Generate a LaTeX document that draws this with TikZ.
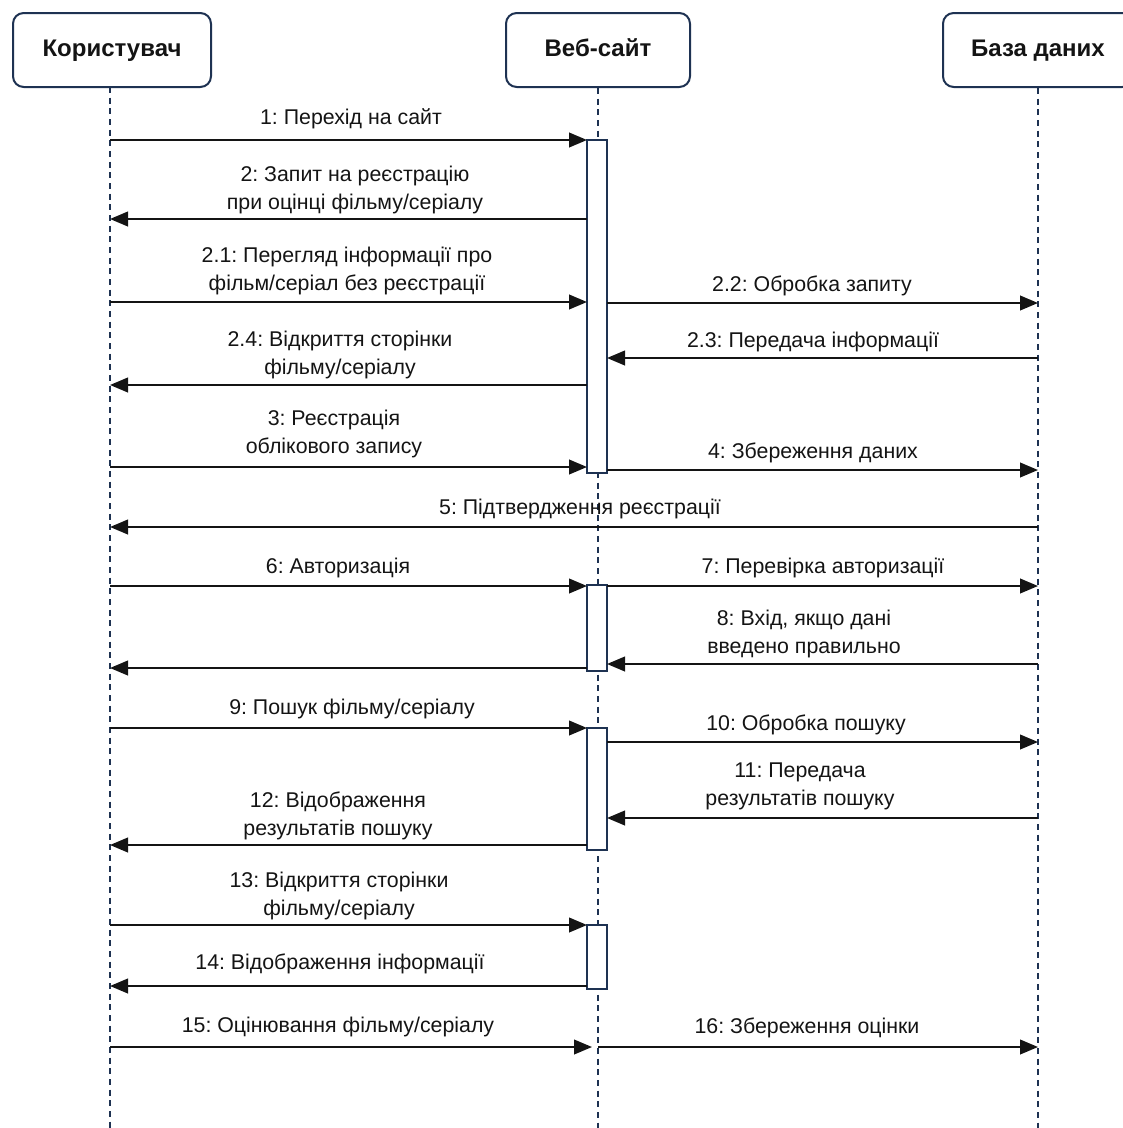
\documentclass[tikz,border=0pt]{standalone}
\usepackage{fontspec}
\setmainfont{Liberation Sans}
\usetikzlibrary{arrows.meta}
\definecolor{navy}{RGB}{30,50,82}
\definecolor{ink}{RGB}{20,20,20}

% one message arrow between two named coordinates
\newcommand\seqmsg[4]{%
  \coordinate (#1s) at (#3,#2);
  \coordinate (#1e) at (#4,#2);
  \draw[msg] (#1s) -- (#1e);}

\begin{document}
\frenchspacing
\begin{tikzpicture}[x=0.75pt,y=-0.75pt,
  actor/.style={draw=navy, line width=1.5pt, rounded corners=8pt,
    minimum height=55.5pt, fill=white, text height=13pt, text depth=3.5pt,
    text=ink, font=\bfseries\fontsize{18}{21}\selectfont},
  life/.style={draw=navy, line width=1.1pt, dash pattern=on 4.5pt off 3.5pt},
  actbox/.style={draw=navy, line width=1.1pt, fill=white, minimum width=15pt, inner sep=0pt},
  msg/.style={draw=ink, line width=1.5pt, -{Triangle[length=13.5pt,width=11pt]}},
  lbl/.style={align=center, inner sep=0pt, text=ink, font=\fontsize{16}{21}\selectfont}]

\useasboundingbox (0,0) rectangle (1122,1128);

% lifelines
\coordinate (Uend) at (110,1128);
\coordinate (Wend) at (598,1128);
\coordinate (Dend) at (1038,1128);
\node[actor, minimum width=148.5pt] (U) at (112,50) {Користувач};
\node[actor, minimum width=138pt] (W) at (598,50) {Веб-сайт};
\node[actor, minimum width=142.5pt] (D) at (1038,50) {База даних};
\draw[life] (110,87) -- (Uend);
\draw[life] (W.south) -- (Wend);
\draw[life] (D.south) -- (Dend);

% activation bars on the web-site lifeline
\node[actbox, minimum height=249.75pt] (A1) at (597,306.5) {};
\node[actbox, minimum height=64.5pt] (A2) at (597,628) {};
\node[actbox, minimum height=91.5pt] (A3) at (597,789) {};
\node[actbox, minimum height=48pt] (A4) at (597,957) {};

% messages
\seqmsg{m1}{140}{110}{587}
\node[lbl] (l1) at (351,119) {1: Перехід на сайт};
\seqmsg{m2}{219}{587}{110}
\node[lbl] (l2) at (355,189.5) {2: Запит на реєстрацію\\при оцінці фільму/серіалу};
\seqmsg{m21}{302}{110}{587}
\node[lbl] (l21) at (347,271) {2.1: Перегляд інформації про\\фільм/серіал без реєстрації};
\seqmsg{m22}{303}{607}{1038}
\node[lbl] (l22) at (812,286) {2.2: Обробка запиту};
\seqmsg{m23}{358}{1038}{607}
\node[lbl] (l23) at (813,342) {2.3: Передача інформації};
\seqmsg{m24}{385}{587}{110}
\node[lbl] (l24) at (340,355) {2.4: Відкриття сторінки\\фільму/серіалу};
\seqmsg{m3}{467}{110}{587}
\node[lbl] (l3) at (334,434) {3: Реєстрація\\облікового запису};
\seqmsg{m4}{470}{607}{1038}
\node[lbl] (l4) at (813,453) {4: Збереження даних};
\seqmsg{m5}{527}{1038}{110}
\node[lbl] (l5) at (580,509) {5: Підтвердження реєстрації};
\seqmsg{m6}{586}{110}{587}
\node[lbl] (l6) at (338,568) {6: Авторизація};
\seqmsg{m7}{586}{607}{1038}
\node[lbl] (l7) at (823,568) {7: Перевірка авторизації};
\seqmsg{m8}{664}{1038}{607}
\node[lbl] (l8) at (804,634) {8: Вхід, якщо дані\\введено правильно};
\seqmsg{m8r}{668}{587}{110}
\seqmsg{m9}{728}{110}{587}
\node[lbl] (l9) at (352,709) {9: Пошук фільму/серіалу};
\seqmsg{m10}{742}{607}{1038}
\node[lbl] (l10) at (806,725) {10: Обробка пошуку};
\seqmsg{m11}{818}{1038}{607}
\node[lbl] (l11) at (800,786) {11: Передача\\результатів пошуку};
\seqmsg{m12}{845}{587}{110}
\node[lbl] (l12) at (338,816) {12: Відображення\\результатів пошуку};
\seqmsg{m13}{925}{110}{587}
\node[lbl] (l13) at (339,896) {13: Відкриття сторінки\\фільму/серіалу};
\seqmsg{m14}{986}{587}{110}
\node[lbl] (l14) at (340,964) {14: Відображення інформації};
\seqmsg{m15}{1047}{110}{592}
\node[lbl] (l15) at (338,1027) {15: Оцінювання фільму/серіалу};
\seqmsg{m16}{1047}{598}{1038}
\node[lbl] (l16) at (807,1028) {16: Збереження оцінки};
\end{tikzpicture}
\end{document}
